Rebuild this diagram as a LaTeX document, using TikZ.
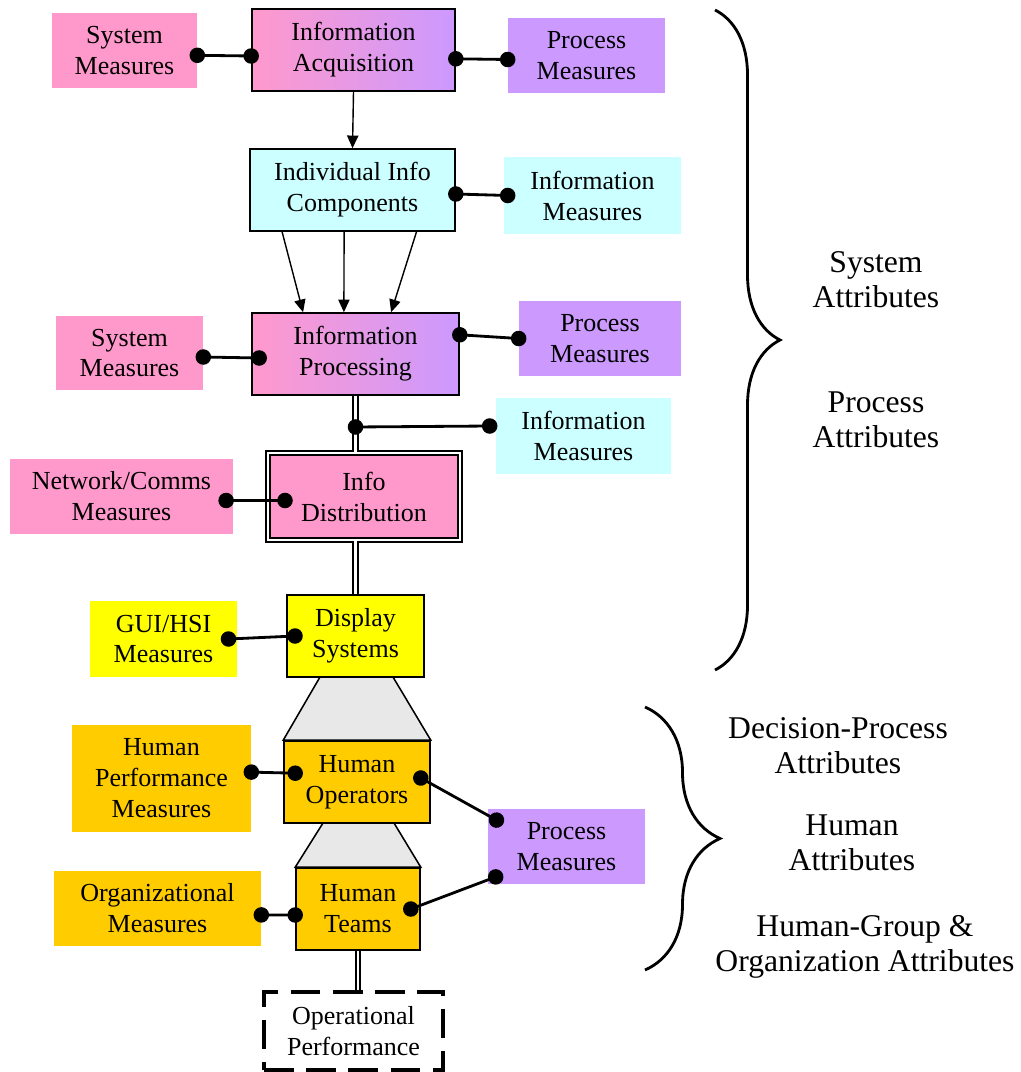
\documentclass[tikz,border=0pt]{standalone}
\usepackage{fontspec}
\setmainfont{Liberation Serif}
\usepackage{xcolor}
\usetikzlibrary{arrows.meta,decorations.pathreplacing}

\definecolor{rose}{HTML}{FF99CC}
\definecolor{lilac}{HTML}{CC99FF}
\definecolor{aqua}{HTML}{CCFFFF}
\definecolor{lemon}{HTML}{FFFF00}
\definecolor{amber}{HTML}{FFCC00}

\begin{document}
\begin{tikzpicture}[x=0.025cm, y=-0.025cm,
  every node/.style={font=\fontsize{18.5}{22}\selectfont, align=center, inner sep=0pt},
  sz/.style 2 args={minimum width=#1cm, minimum height=#2cm},
  box/.style={draw, line width=1.1pt},
  grad/.style={box, left color=rose, right color=lilac},
  link/.style={line width=2pt, arrows={Circle[length=11pt]-Circle[length=11pt]},
    shorten <=-5.5pt, shorten >=-5.5pt},
  dbl/.style={double, line width=1.5pt, double distance=1.8pt},
  arw/.style={line width=1pt, arrows={-Triangle[length=9pt,width=8pt]}},
  brc/.style={decorate, decoration={brace, amplitude=#1}, line width=2pt},
  attr/.style={font=\fontsize{22.5}{25}\selectfont},
  trap/.style={draw, line width=1.1pt, fill=gray!18}]

\useasboundingbox (0,0) rectangle (1020,1072);

%% system chain
\node[grad, sz={5.075}{2.05}] (ia) at (353.5,50) {Information\\Acquisition};
\node[box, fill=aqua, sz={5.125}{2.05}] (ic) at (352.5,190) {Individual Info\\Components};
\node[grad, sz={5.175}{2.05}] (ip) at (355.5,354) {Information\\Processing};
\node[box, fill=rose, double, line width=1.4pt, double distance=1.6pt, sz={4.8}{2.175}] (id) at (364,496.5) {Info\\Distribution};
\node[box, fill=lemon, sz={3.425}{2.05}] (ds) at (355.5,636) {Display\\Systems};

%% human chain
\node[box, fill=amber, sz={3.65}{2.05}] (ho) at (357,782) {Human\\Operators};
\node[box, fill=amber, sz={3.1}{2.05}] (ht) at (358,909) {Human\\Teams};
\node[draw, line width=2.2pt, dash pattern=on 21pt off 9pt, sz={4.475}{1.95}] (op) at (353.5,1031) {Operational\\Performance};

%% measures
\node[fill=rose, sz={3.625}{1.875}] (sm1) at (124.5,50.5) {System\\Measures};
\node[fill=lilac, sz={3.925}{1.875}] (pm1) at (586.5,55.5) {Process\\Measures};
\node[fill=aqua, sz={4.425}{1.925}] (im1) at (592.5,195.5) {Information\\Measures};
\node[fill=rose, sz={3.675}{1.85}] (sm2) at (129.5,353) {System\\Measures};
\node[fill=lilac, sz={4.05}{1.875}] (pm2) at (600,338.5) {Process\\Measures};
\node[fill=aqua, sz={4.375}{1.9}] (im2) at (583.5,436) {Information\\Measures};
\node[fill=rose, sz={5.575}{1.875}] (nc) at (121.5,496.5) {Network/Comms\\Measures};
\node[fill=lemon, sz={3.675}{1.9}] (gui) at (163.5,639) {GUI/HSI\\Measures};
\node[fill=amber, sz={4.475}{2.675}] (hp) at (161.5,778.5) {Human\\Performance\\Measures};
\node[fill=amber, sz={5.175}{1.875}] (om) at (157.5,908.5) {Organizational\\Measures};
\node[fill=lilac, sz={3.925}{1.875}] (pm3) at (566.5,846.5) {Process\\Measures};

%% funnels
\draw[trap] (320,677) -- (393,677) -- (ho.north east) -- (ho.north west) -- cycle;
\draw[trap] (323,823) -- (394,823) -- (ht.north east) -- (ht.north west) -- cycle;

%% flow arrows
\draw[arw] (ia.south) -- (ic.north);
\foreach \a/\b in {-1.76/-1.31, -0.21/-0.29, 1.6/0.89}
  \draw[arw] ([xshift=\a cm]ic.south) -- ([xshift=\b cm]ip.north);

%% double lines
\draw[dbl] (ip.south) -- (ip.south |- id.north);
\draw[dbl] (ds.north |- id.south) -- (ds.north);
\draw[dbl] (ht.south) -- (ht.south |- op.north);

%% measure links
\coordinate (tap) at ([yshift=-0.78cm]ip.south);
\draw[link] ([yshift=-0.12cm]sm1.east) -- ([yshift=-0.15cm]ia.west);
\draw[link] ([yshift=-0.22cm]ia.east) -- ([yshift=-0.1cm]pm1.west);
\draw[link] ([yshift=-0.1cm]ic.east) -- ([xshift=0.1cm]im1.west);
\draw[link] ([yshift=-0.1cm]sm2.east) -- ([xshift=0.2cm,yshift=-0.1cm]ip.west);
\draw[link] ([yshift=0.48cm]ip.east) -- (pm2.west);
\draw[link] (tap) -- ([xshift=-0.15cm,yshift=0.25cm]im2.west);
\draw[link] ([xshift=-0.18cm,yshift=-0.1cm]nc.east) -- ([xshift=0.45cm,yshift=-0.1cm]id.west);
\draw[link] ([xshift=-0.22cm]gui.east) -- ([xshift=0.22cm]ds.west);
\draw[link] ([yshift=0.16cm]hp.east) -- ([xshift=0.3cm,yshift=0.22cm]ho.west);
\draw[link] ([yshift=-0.16cm]om.east) -- ([yshift=-0.15cm]ht.west);
\draw[link] ([xshift=-0.25cm,yshift=0.1cm]ho.east) -- ([xshift=0.22cm,yshift=0.66cm]pm3.west);
\draw[link] ([xshift=-0.25cm]ht.east) -- ([xshift=0.2cm,yshift=-0.76cm]pm3.west);

%% braces
\draw[brc=1.625cm] (715,10) -- (715,670);
\draw[brc=1.875cm] (645,707) -- (645,970);

%% attribute labels
\node[attr] (sa) at (876,280) {System\\Attributes};
\node[attr] (pa) at (876,420) {Process\\Attributes};
\node[attr] (da) at (838,746) {Decision-Process\\Attributes};
\node[attr] (ha) at (852,843) {Human\\Attributes};
\node[attr] (ga) at (865,947) {Human-Group \&\\Organization Attributes};

\end{tikzpicture}
\end{document}
